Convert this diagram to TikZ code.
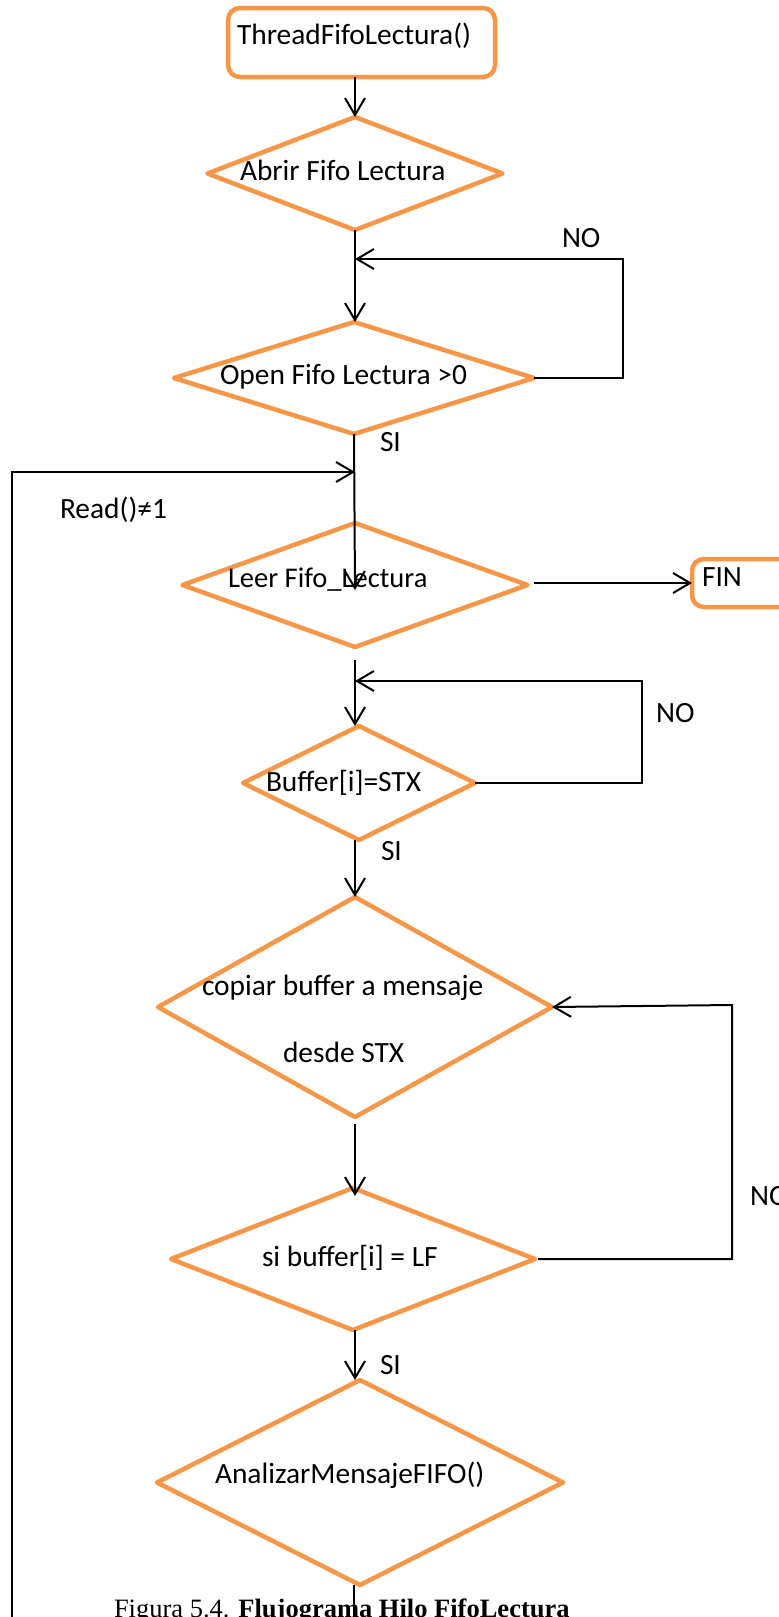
\documentclass[tikz,border=0pt]{standalone}
\usepackage{fontspec}
\setmainfont{Carlito}
\newfontfamily\capfont{Liberation Serif}
\usetikzlibrary{shapes.geometric,arrows.meta}
\definecolor{flowOrange}{HTML}{F79646}

\begin{document}
\begin{tikzpicture}[x=1pt,y=-1pt,
  every node/.style={inner sep=0pt, outer sep=0pt},
  decision/.style={diamond, draw=flowOrange, line width=4.5pt, line join=round},
  terminal/.style={rectangle, rounded corners=12pt, draw=flowOrange, line width=4.5pt},
  conn/.style={line width=2pt},
  arr/.style={conn, -{Straight Barb[length=17pt,width=20pt]}},
  lbl/.style={anchor=base west, font=\fontsize{29.4}{34}\selectfont},
  caption/.style={anchor=base west, font=\capfont\fontsize{26.5}{30}\selectfont}
]
\useasboundingbox (0,0) rectangle (779,1617);
\clip (0,0) rectangle (779,1617);

% shapes
\node[terminal, minimum width=267pt, minimum height=69pt] (start) at (361.5,42.5) {};
\node[decision, minimum width=295pt, minimum height=113pt] (d1) at (355,173.5) {};
\node[decision, minimum width=360pt, minimum height=112pt] (d2) at (354,378) {};
\node[decision, minimum width=345pt, minimum height=124pt] (d3) at (355,585) {};
\node[terminal, minimum width=140pt, minimum height=48pt] (fin) at (762,583) {};
\node[decision, minimum width=232pt, minimum height=114pt] (d4) at (359,783) {};
\node[decision, minimum width=394pt, minimum height=220pt] (d5) at (355,1007) {};
\node[decision, minimum width=364pt, minimum height=142pt] (d6) at (353,1259) {};
\node[decision, minimum width=406pt, minimum height=205pt] (d7) at (360,1482.5) {};

% texts inside the shapes
\node[lbl] (tStart) at (237,44) {ThreadFifoLectura()};
\node[lbl] (tAbrir) at (240,180) {Abrir Fifo Lectura};
\node[lbl] (tOpen) at (220,384) {Open Fifo Lectura >0};
\node[lbl, font=\fontsize{28.5}{33}\selectfont] (tLeer) at (228,587) {Leer Fifo\_Lectura};
\node[lbl] (tFin) at (702,586) {FIN};
\node[lbl] (tBuffer) at (266,791) {Buffer[i]=STX};
\node[lbl] (tCopiar) at (202,995) {copiar buffer a mensaje};
\node[lbl] (tDesde) at (283,1062) {desde STX};
\node[lbl] (tSi) at (262,1266) {si buffer[i] = LF};
\node[lbl] (tAnalizar) at (215,1483) {AnalizarMensajeFIFO()};

% branch labels
\node[lbl] (no1) at (562,247) {NO};
\node[lbl] (si1) at (380,451) {SI};
\node[lbl] (rd) at (60,518) {Read()≠1};
\node[lbl] (no2) at (656,722) {NO};
\node[lbl] (si2) at (381,860) {SI};
\node[lbl] (no3) at (750,1205) {NO};
\node[lbl] (si3) at (380,1374) {SI};

% caption
\node[caption] (cap) at (114,1617) {Figura 5.4. \textbf{Flujograma Hilo FifoLectura}};

% loop corners and free ends
\coordinate (k1) at (623,259);
\coordinate (rin) at (355,472);
\coordinate (rl) at (12,1650);
\coordinate (k4) at (642,681);
\coordinate (k5) at (732,1005);
\coordinate (tail) at (354,1650);

% connectors
\draw[arr] (d1.north |- start.south) -- (d1.north);
\draw[arr] (d1.south) -- (d1.south |- d2.north);
\draw[arr] (d2.east) -| (k1) -- (d1.south |- k1);
\draw[arr] (d2.south) -- ([yshift=-5pt]d3.center);
\draw[arr] (rl) |- (rin);
\draw[arr] ([xshift=6pt]d3.east |- fin.west) -- (fin.west);
\draw[arr] ([yshift=-13pt]d3.south) -- (d3.south |- d4.north);
\draw[arr] (d4.east) -| (k4) -- (d3.south |- k4);
\draw[arr] (d5.north |- d4.south) -- (d5.north);
\draw[arr] ([yshift=-7pt]d5.south) -- ([yshift=-8pt]d5.south |- d6.north);
\draw[arr] ([xshift=3pt]d6.east) -| (k5) -- (d5.east);
\draw[arr] (d3.south |- d6.south) -- (d3.south |- d7.north);
\draw[conn] (tail |- d7.south) -- (tail);
\end{tikzpicture}
\end{document}
